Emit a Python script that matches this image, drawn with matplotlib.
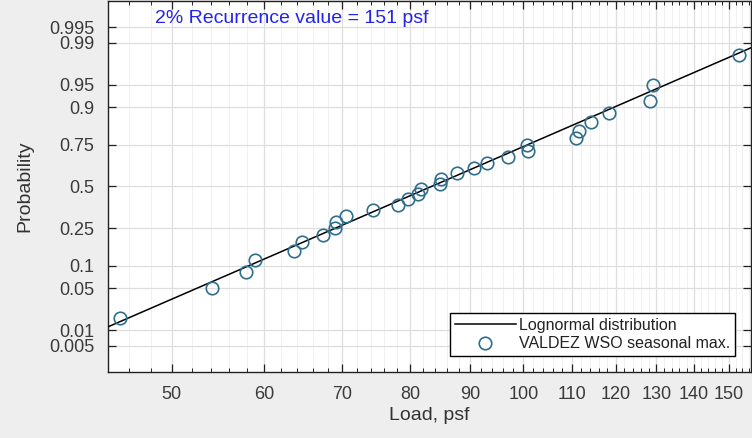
import numpy as np
import matplotlib
matplotlib.use("Agg")
import matplotlib.pyplot as plt
from matplotlib.ticker import FixedLocator, NullFormatter, NullLocator
from statistics import NormalDist

plt.rcParams['font.family'] = ['Liberation Sans', 'DejaVu Sans']

# seasonal max loads (psf), with their plotting probabilities
load = [45.2, 54.1, 57.9, 58.9, 63.6, 64.6, 67.4, 69.0, 69.1, 70.5,
        74.3, 78.1, 79.7, 81.2, 81.7, 84.8, 85.0, 87.7, 90.7, 93.1,
        97.0, 100.9, 100.8, 110.9, 111.6, 114.2, 118.4, 128.3, 129.1, 152.9]
prob = [0.0167, 0.05, 0.0833, 0.1167, 0.15, 0.1833, 0.2167, 0.25, 0.2833, 0.3167,
        0.35, 0.3833, 0.4167, 0.45, 0.4833, 0.5167, 0.55, 0.5833, 0.6167, 0.65,
        0.6833, 0.7167, 0.75, 0.7833, 0.8167, 0.85, 0.8833, 0.9167, 0.95, 0.9833]

# fitted lognormal line (straight on this paper), end points
fit_load = [44.1, 156.6]
fit_prob = [0.0116, 0.9875]

y_ticks = [0.005, 0.01, 0.05, 0.1, 0.25, 0.5, 0.75, 0.9, 0.95, 0.99, 0.995]
y_labels = ['0.005', '0.01', '0.05', '0.1', '0.25', '0.5', '0.75', '0.9', '0.95', '0.99', '0.995']
x_ticks = [50, 60, 70, 80, 90, 100, 110, 120, 130, 140, 150]

nd = NormalDist()
_ppf = np.vectorize(nd.inv_cdf, otypes=[float])
_cdf = np.vectorize(nd.cdf, otypes=[float])


def probit(p):
    p = np.clip(np.asarray(p, dtype=float), 1e-12, 1 - 1e-12)
    return _ppf(p)


def probit_inv(z):
    return _cdf(np.asarray(z, dtype=float))


fig = plt.figure(figsize=(7.52, 4.38), dpi=100, facecolor='#eeeeee')
ax = fig.add_axes([0.1436, 0.1507, 0.855, 0.8473])
ax.set_facecolor('white')

ax.set_xscale('log')
ax.set_yscale('function', functions=(probit, probit_inv))

# ticks + grid
ax.xaxis.set_major_locator(FixedLocator(x_ticks))
ax.xaxis.set_minor_locator(FixedLocator(np.arange(44, 158, 2)))
ax.xaxis.set_minor_formatter(NullFormatter())
ax.set_xticklabels([str(v) for v in x_ticks])
ax.yaxis.set_major_locator(FixedLocator(y_ticks))
ax.yaxis.set_minor_locator(NullLocator())
ax.set_yticklabels(y_labels)

ax.grid(True, which='major', color='#dedede', lw=0.9)
ax.grid(True, which='minor', axis='x', color='#f1f1f1', lw=0.7)
ax.set_axisbelow(True)

ax.plot(fit_load, fit_prob, color='black', lw=1.1, label='Lognormal distribution', zorder=3)
ax.plot(load, prob, ls='none', marker='o', ms=9, mfc='none', mec='#2f6f8c', mew=1.2,
        label='VALDEZ WSO seasonal max.', zorder=4)

ax.set_xlim(44.1, 156.6)
ax.set_ylim(nd.cdf(-3), nd.cdf(3))

ax.tick_params(which='both', direction='in', top=True, right=True, colors='#222222',
               labelcolor='#3a3a3a', labelsize=13)
ax.tick_params(which='major', length=6, width=0.9)
ax.tick_params(which='minor', length=3, width=0.7)
ax.tick_params(axis='y', pad=10)
ax.tick_params(axis='x', pad=10)
for s in ax.spines.values():
    s.set_color('#222222')
    s.set_linewidth(1.0)

ax.set_xlabel('Load, psf', fontsize=14, color='#333333', labelpad=3)
ax.set_ylabel('Probability', fontsize=14, color='#333333', labelpad=11)

ax.text(0.073, 0.952, '2% Recurrence value = 151 psf', transform=ax.transAxes,
        fontsize=14, color='#2323ee', va='center', ha='left')

leg = ax.legend(loc='lower right', bbox_to_anchor=(0.975, 0.043), borderaxespad=0,
                fontsize=11.5, fancybox=False, framealpha=1, edgecolor='black',
                handlelength=3.8, labelspacing=0.2, borderpad=0.3, handletextpad=0.2)
leg.get_frame().set_linewidth(1.0)
for t in leg.get_texts():
    t.set_color('#222222')

fig.savefig('out.png', dpi=100, facecolor=fig.get_facecolor())
